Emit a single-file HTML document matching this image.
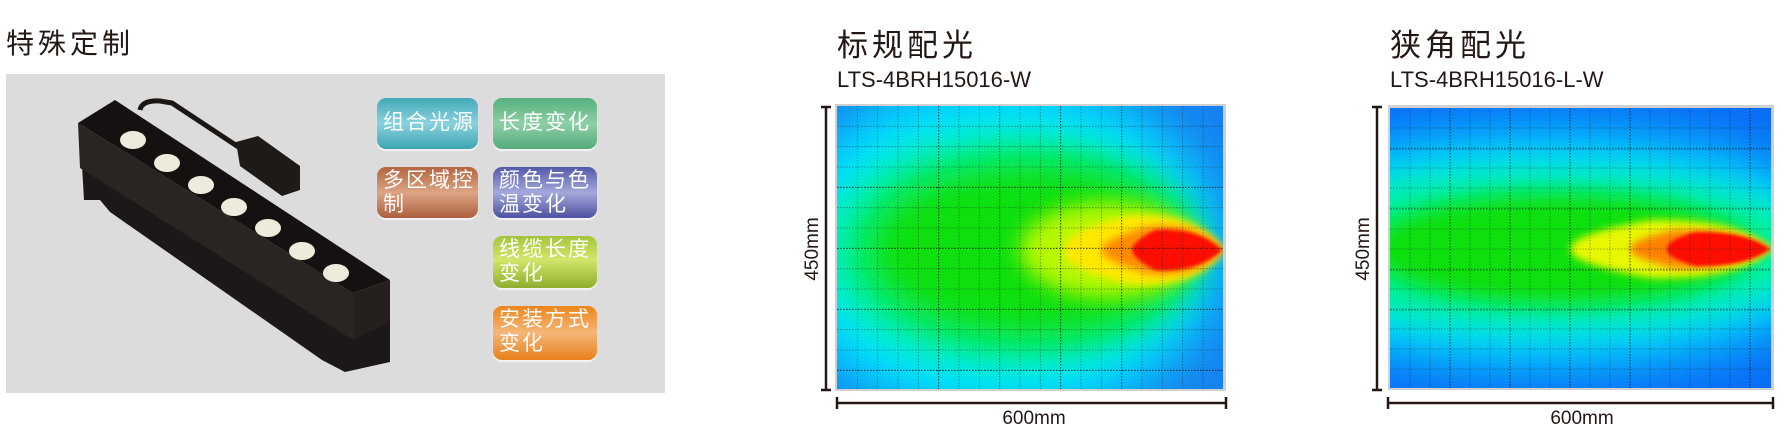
<!DOCTYPE html>
<html><head><meta charset="utf-8"><style>
html,body{margin:0;padding:0;background:#fff;}
body{width:1783px;height:443px;position:relative;overflow:hidden;font-family:"Liberation Sans","Noto Sans CJK SC",sans-serif;}
.t{position:absolute;color:#231815;white-space:nowrap;}
.btn{position:absolute;border-radius:9px;color:#fff;font-size:21px;line-height:24px;letter-spacing:2px;padding-left:6px;box-sizing:border-box;font-family:"Liberation Sans","Noto Sans CJK SC",sans-serif;box-shadow:0 2px 1px #f4f4f4;}
</style></head><body>
<div class="t" style="left:6px;top:22px;font-size:28px;letter-spacing:4px;">特殊定制</div>
<div style="position:absolute;left:6px;top:74px;width:659px;height:319px;background:#dcdcdc;"></div>
<svg style="position:absolute;left:0;top:0" width="700" height="443">
 <path d="M140,110 Q142,100 160,101 L172,103 L240,148" stroke="#1a1614" stroke-width="5" fill="none"/>
 <polygon points="236,142 258,136 300,166 300,190 282,196 240,166" fill="#1e1a18"/>
 <polygon points="82,165 353,338 390,320 390,362 345,372 322,360 110,212 100,200 84,200" fill="#1c1817"/>
 <polygon points="78,123 353,293 353,340 80,168" fill="#2a2523"/>
 <polygon points="78,123 115,100 390,280 353,293" fill="#141110"/>
 <polygon points="353,293 390,280 390,322 353,340" fill="#241f1d"/>
 <g fill="#eeebdc">
  <ellipse cx="133" cy="140" rx="13" ry="9"/><ellipse cx="167" cy="163" rx="13" ry="9"/>
  <ellipse cx="201" cy="185" rx="13" ry="9"/><ellipse cx="234" cy="207" rx="13" ry="9"/>
  <ellipse cx="268" cy="228" rx="13" ry="9"/><ellipse cx="302" cy="251" rx="13" ry="9"/>
  <ellipse cx="336" cy="273" rx="13" ry="9"/>
 </g>
</svg>
<div class="btn" style="left:377px;top:98px;width:101px;height:51px;background:linear-gradient(#45a9b8,#88d2de 50%,#3ea4b2);padding-top:13px;">组合光源</div>
<div class="btn" style="left:493px;top:98px;width:104px;height:51px;background:linear-gradient(#56b07e,#8fcfa6 50%,#53ab7b);padding-top:13px;">长度变化</div>
<div class="btn" style="left:377px;top:167px;width:101px;height:51px;background:linear-gradient(#b4643f,#dca584 50%,#ad5f3f);padding-top:2px;">多区域控<br>制</div>
<div class="btn" style="left:493px;top:167px;width:104px;height:51px;background:linear-gradient(#5459aa,#a3a8dc 50%,#4c51a0);padding-top:2px;">颜色与色<br>温变化</div>
<div class="btn" style="left:493px;top:236px;width:104px;height:52px;background:linear-gradient(#a4c43a,#d2e66a 45%,#8fae2e);padding-top:2px;">线缆长度<br>变化</div>
<div class="btn" style="left:493px;top:306px;width:104px;height:54px;background:linear-gradient(#ee861c,#f4b678 50%,#e9801a);padding-top:2px;">安装方式<br>变化</div>

<div class="t" style="left:837px;top:20px;font-size:31px;letter-spacing:4px;">标规配光</div>
<div class="t" style="left:837px;top:67px;font-size:22px;">LTS-4BRH15016-W</div>
<div class="t" style="left:1390px;top:20px;font-size:31px;letter-spacing:4px;">狭角配光</div>
<div class="t" style="left:1390px;top:67px;font-size:22px;">LTS-4BRH15016-L-W</div>

<svg style="position:absolute;left:0;top:0" width="1783" height="443">
 <defs>
  <filter id="b30" x="-50%" y="-50%" width="200%" height="200%"><feGaussianBlur stdDeviation="28"/></filter>
  <filter id="b20" x="-50%" y="-50%" width="200%" height="200%"><feGaussianBlur stdDeviation="18"/></filter>
  <filter id="b12" x="-50%" y="-50%" width="200%" height="200%"><feGaussianBlur stdDeviation="10"/></filter>
  <filter id="b5" x="-50%" y="-50%" width="200%" height="200%"><feGaussianBlur stdDeviation="4"/></filter>
  <filter id="b2" x="-50%" y="-50%" width="200%" height="200%"><feGaussianBlur stdDeviation="1.5"/></filter>
  <clipPath id="c1"><rect x="837" y="106" width="386" height="283"/></clipPath>
  <clipPath id="c2"><rect x="1390" y="108" width="381" height="280"/></clipPath>
 </defs>
 <!-- plot1 -->
 <rect x="835" y="104" width="391" height="287" fill="#d0d0d0"/>
 <g clip-path="url(#c1)">
  <rect x="837" y="106" width="386" height="283" fill="#1580f0"/>
  <ellipse cx="1000" cy="250" rx="220" ry="170" fill="#00e8ff" filter="url(#b30)"/>
  <ellipse cx="1010" cy="250" rx="185" ry="115" fill="#00f09c" filter="url(#b20)"/>
  <ellipse cx="1030" cy="250" rx="165" ry="88" fill="#10e010" filter="url(#b20)"/>
  <ellipse cx="1110" cy="250" rx="90" ry="48" fill="#b8f800" filter="url(#b12)"/>
  <path d="M1224,250 Q1200,212 1130,216 Q1060,232 1065,250 Q1060,268 1130,284 Q1200,288 1224,250Z" fill="#ffe800" filter="url(#b5)"/>
  <path d="M1224,250 Q1200,222 1150,226 Q1100,240 1102,250 Q1100,260 1150,274 Q1200,278 1224,250Z" fill="#ff8a00" filter="url(#b5)"/>
  <path d="M1222,250 Q1198,227 1155,230 Q1132,242 1132,250 Q1132,258 1155,270 Q1198,273 1222,250Z" fill="#ff0a00" filter="url(#b2)"/>
 </g>
 <g stroke-width="0.8" stroke-dasharray="1.5,1.5" fill="none">
  <path d="M857.3,106V389M877.7,106V389M898,106V389M918.3,106V389M938.7,106V389M959,106V389M979.3,106V389M999.7,106V389M1020,106V389M1040.3,106V389M1060.7,106V389M1081,106V389M1101.3,106V389M1121.7,106V389M1142,106V389M1162.3,106V389M1182.7,106V389M1203,106V389
  M837,126.3H1223M837,146.7H1223M837,167H1223M837,187.3H1223M837,207.7H1223M837,228H1223M837,248.3H1223M837,268.7H1223M837,289H1223M837,309.3H1223M837,329.7H1223M837,350H1223M837,370.3H1223" stroke="#203030" opacity="0.55"/>
  <path d="M938.7,106V389M999.7,106V389M1060.7,106V389M1121.7,106V389M837,187.3H1223M837,248.3H1223M837,309.3H1223M837,370.3H1223" stroke="#000" opacity="0.7"/>
 </g>
 <path d="M826,107 V390 M821,107 H831 M821,390 H831" stroke="#231815" stroke-width="2.5"/>
 <path d="M837,403 H1226 M837,397 V409 M1226,397 V409" stroke="#231815" stroke-width="2.5"/>
 <text x="0" y="0" transform="translate(818,249) rotate(-90)" text-anchor="middle" font-size="19" fill="#231815" font-family="Liberation Sans, sans-serif">450mm</text>
 <text x="1034" y="424" text-anchor="middle" font-size="19" fill="#231815" font-family="Liberation Sans, sans-serif">600mm</text>
 <!-- plot2 -->
 <rect x="1388" y="105" width="386" height="285" fill="#d0d0d0"/>
 <g clip-path="url(#c2)">
  <rect x="1390" y="108" width="381" height="280" fill="#0a6cf6"/>
  <ellipse cx="1540" cy="249" rx="310" ry="115" fill="#00e8ff" filter="url(#b30)"/>
  <ellipse cx="1540" cy="249" rx="270" ry="75" fill="#00f090" filter="url(#b20)"/>
  <ellipse cx="1560" cy="249" rx="190" ry="55" fill="#10e010" filter="url(#b12)"/>
  <path d="M1772,249 Q1740,218 1650,220 Q1570,234 1570,249 Q1570,264 1650,278 Q1740,280 1772,249Z" fill="#e8f800" filter="url(#b5)"/>
  <path d="M1772,249 Q1740,228 1675,230 Q1630,240 1630,249 Q1630,258 1675,268 Q1740,270 1772,249Z" fill="#ff8000" filter="url(#b5)"/>
  <path d="M1770,249 Q1745,231 1695,232 Q1665,241 1667,249 Q1665,257 1695,266 Q1745,267 1770,249Z" fill="#ff0a00" filter="url(#b2)"/>
 </g>
 <g stroke-width="0.8" stroke-dasharray="1.5,1.5" fill="none">
  <path d="M1410,108V388M1430,108V388M1450,108V388M1470,108V388M1490,108V388M1510,108V388M1530,108V388M1550,108V388M1570,108V388M1590,108V388M1610,108V388M1630,108V388M1650,108V388M1670,108V388M1690,108V388M1710,108V388M1730,108V388M1750,108V388
  M1390,128H1771M1390,148H1771M1390,168H1771M1390,188H1771M1390,208H1771M1390,229H1771M1390,249H1771M1390,269H1771M1390,289H1771M1390,309H1771M1390,329H1771M1390,349H1771M1390,369H1771" stroke="#203030" opacity="0.55"/>
  <path d="M1450,108V388M1510,108V388M1570,108V388M1630,108V388M1750,108V388M1390,149H1771M1390,209H1771M1390,270H1771M1390,310H1771" stroke="#000" opacity="0.7"/>
 </g>
 <path d="M1377,107 V390 M1372,107 H1382 M1372,390 H1382" stroke="#231815" stroke-width="2.5"/>
 <path d="M1388,403 H1773 M1388,397 V409 M1773,397 V409" stroke="#231815" stroke-width="2.5"/>
 <text x="0" y="0" transform="translate(1369,249) rotate(-90)" text-anchor="middle" font-size="19" fill="#231815" font-family="Liberation Sans, sans-serif">450mm</text>
 <text x="1582" y="424" text-anchor="middle" font-size="19" fill="#231815" font-family="Liberation Sans, sans-serif">600mm</text>
</svg>
</body></html>
